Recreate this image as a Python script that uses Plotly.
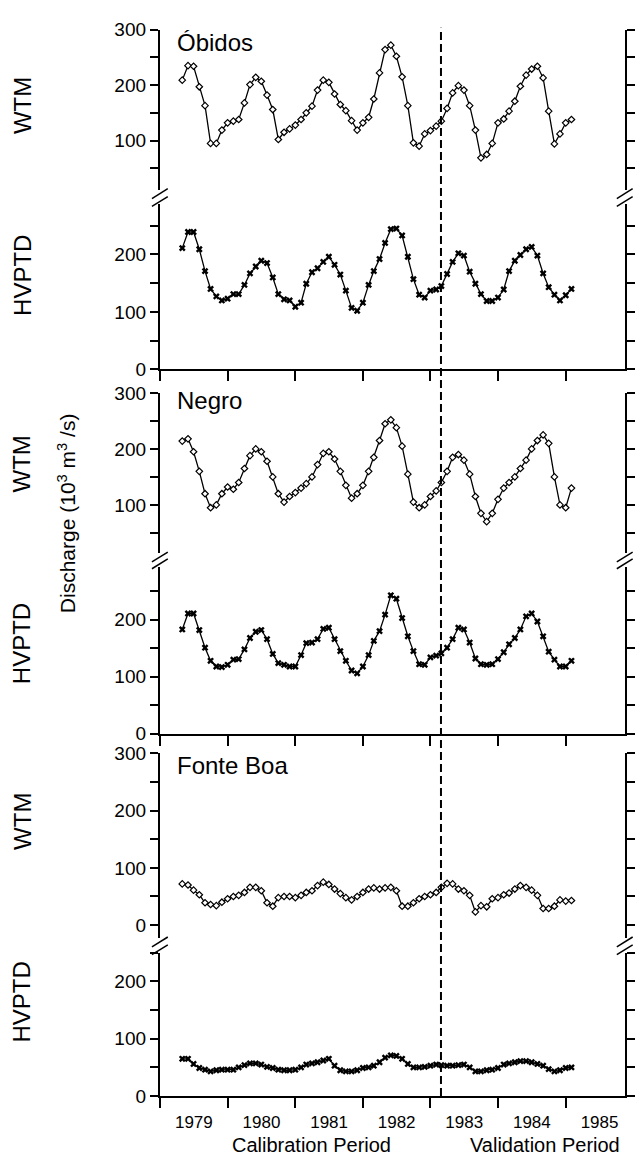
import pandas as pd
import plotly.graph_objects as go

W, H = 635, 1166

# monthly values, May 1979 - Feb 1985 (10^3 m3/s)
dates = pd.date_range("1979-05-01", periods=70, freq="MS")

obidos_wtm = [209, 235, 234, 197, 163, 95, 95, 119, 132, 135, 138, 168, 201, 214, 207, 182, 156, 102, 115, 121,
              128, 138, 150, 162, 191, 209, 205, 184, 165, 154, 136, 119, 132, 142, 175, 222, 264, 272, 252, 215,
              163, 96, 90, 112, 118, 126, 135, 158, 186, 199, 191, 163, 119, 69, 75, 95, 132, 139, 153, 171,
              198, 218, 229, 234, 213, 153, 94, 112, 132, 138]
obidos_hvptd = [211, 239, 239, 209, 171, 140, 127, 120, 123, 131, 131, 147, 167, 179, 189, 185, 160, 131, 122, 120,
                109, 116, 149, 169, 176, 187, 196, 182, 165, 137, 107, 102, 116, 147, 171, 192, 220, 244, 245, 233,
                196, 157, 130, 125, 137, 139, 145, 166, 187, 202, 198, 170, 149, 131, 119, 119, 125, 139, 171, 189,
                199, 209, 213, 198, 167, 143, 130, 120, 129, 140]
negro_wtm = [214, 218, 195, 160, 120, 95, 100, 120, 132, 128, 140, 165, 188, 200, 195, 178, 150, 120, 105, 115,
             122, 130, 138, 150, 172, 192, 195, 182, 160, 135, 112, 120, 135, 160, 185, 215, 245, 252, 238, 205,
             155, 105, 95, 100, 115, 125, 140, 160, 185, 190, 180, 155, 115, 85, 70, 85, 110, 130, 140, 150,
             165, 180, 200, 215, 225, 210, 150, 100, 95, 130]
negro_hvptd = [183, 211, 211, 182, 151, 128, 118, 117, 121, 130, 131, 148, 168, 179, 182, 166, 140, 124, 121, 118,
               118, 138, 159, 160, 166, 184, 186, 166, 145, 128, 111, 106, 118, 138, 163, 180, 209, 243, 237, 203,
               171, 145, 122, 121, 134, 137, 141, 151, 166, 186, 183, 160, 132, 122, 121, 122, 131, 143, 157, 168,
               183, 206, 211, 197, 171, 144, 130, 118, 118, 128]
fonteboa_wtm = [72, 70, 61, 53, 39, 36, 34, 40, 46, 50, 52, 57, 66, 66, 60, 39, 33, 48, 50, 50,
                48, 52, 57, 60, 69, 75, 71, 63, 55, 48, 44, 50, 57, 63, 65, 63, 65, 66, 60, 33,
                33, 39, 46, 50, 53, 57, 66, 73, 72, 63, 60, 52, 23, 34, 32, 46, 48, 53, 56, 63,
                69, 66, 61, 52, 29, 29, 33, 44, 42, 43]
fonteboa_hvptd = [65, 65, 56, 49, 46, 43, 45, 46, 46, 46, 50, 54, 57, 57, 55, 51, 49, 46, 45, 45,
                  46, 50, 55, 57, 59, 62, 65, 53, 45, 43, 43, 45, 49, 50, 53, 59, 67, 71, 70, 65,
                  56, 50, 50, 51, 53, 55, 54, 53, 53, 54, 55, 50, 43, 43, 45, 46, 49, 55, 57, 59,
                  61, 61, 59, 56, 53, 47, 43, 45, 49, 50]

stations = ["Óbidos", "Negro", "Fonte Boa"]
wtm = [obidos_wtm, negro_wtm, fonteboa_wtm]
hvptd = [obidos_hvptd, negro_hvptd, fonteboa_hvptd]
calib_end = "1983-02-27"

# pixel layout: (top, bottom) of each sub-panel and its value range
panels = [
    ((20, 183), (11.5, 300)), ((198, 366), (0, 287)),
    ((390, 553), (14, 300)), ((567, 737), (0, 293)),
    ((757, 945), (-22.5, 300)), ((960, 1106), (0, 250)),
]
label_y = [97, 270, 462, 645, 826, 1010]
name_y = [33, 398, 769]
x_left, x_right = 161.4, 630.7


def py(px):
    return 1 - px / H


fig = go.Figure()

for k in range(3):
    xa = "x" if k == 0 else "x%d" % (k + 1)
    fig.add_trace(go.Scatter(x=dates, y=wtm[k], xaxis=xa, yaxis="y" if k == 0 else "y%d" % (2 * k + 1),
                             mode="lines+markers", line=dict(color="black", width=1.3),
                             marker=dict(symbol="diamond", size=5, color="white",
                                         line=dict(color="black", width=1.2))))
    fig.add_trace(go.Scatter(x=dates, y=hvptd[k], xaxis=xa, yaxis="y%d" % (2 * k + 2),
                             mode="lines+markers", line=dict(color="black", width=1.3),
                             marker=dict(symbol="x", size=6, color="black")))

layout = {}
for k in range(3):
    key = "xaxis" if k == 0 else "xaxis%d" % (k + 1)
    layout[key] = dict(domain=[x_left / W, x_right / W], range=["1978-12-31", "1985-11-16"], type="date",
                       anchor="y%d" % (2 * k + 2), showline=True, linecolor="black", linewidth=2,
                       ticks="outside", ticklen=10, tickwidth=2, tickcolor="black",
                       tick0="1979-01-01", dtick="M12", tickformat="%Y", ticklabelmode="period",
                       showticklabels=(k == 2), tickfont=dict(size=17), showgrid=False, zeroline=False)

for i, ((top, bot), (v0, v1)) in enumerate(panels):
    key = "yaxis" if i == 0 else "yaxis%d" % (i + 1)
    layout[key] = dict(domain=[py(bot), py(top)], range=[v0, v1], anchor="x" if i < 2 else "x%d" % (i // 2 + 1),
                       showline=True, linecolor="black", linewidth=2, mirror="ticks",
                       ticks="outside", ticklen=8, tickwidth=2, tickcolor="black",
                       tickvals=[0, 100, 200, 300], tickfont=dict(size=19),
                       minor=dict(tickvals=[50, 150, 250], ticks="outside", ticklen=8, tickwidth=2,
                                  tickcolor="black"),
                       showgrid=False, zeroline=False)

fig.update_layout(width=W, height=H, margin=dict(l=0, r=0, t=0, b=0), showlegend=False,
                  plot_bgcolor="white", paper_bgcolor="white",
                  font=dict(family="Liberation Sans, Arial, sans-serif", color="black", size=19), **layout)

# axis breaks
breaks = [(183, 198), (553, 567), (945, 960)]
for top, bot in breaks:
    for xc in (x_left, x_right):
        for yc in (top + 4, bot - 3):
            fig.add_shape(type="line", xref="paper", yref="paper",
                          x0=(xc - 8) / W, x1=(xc + 8) / W, y0=py(yc + 5), y1=py(yc - 5),
                          line=dict(color="black", width=1.5))

# end of calibration period
fig.add_shape(type="line", xref="x3", yref="paper", x0=calib_end, x1=calib_end, y0=py(1106), y1=py(18),
              line=dict(color="black", width=2, dash="8px,4px"))

for k, name in enumerate(stations):
    fig.add_annotation(text=name, xref="paper", yref="paper", x=177 / W, y=py(name_y[k]),
                       xanchor="left", yanchor="middle", showarrow=False, font=dict(size=24))

for i, yc in enumerate(label_y):
    fig.add_annotation(text="WTM" if i % 2 == 0 else "HVPTD", xref="paper", yref="paper",
                       x=22 / W, y=py(yc), xanchor="center", yanchor="middle",
                       textangle=-90, showarrow=False, font=dict(size=24))

fig.add_annotation(text="Discharge (10<sup>3</sup>\u00a0m<sup>3</sup>\u00a0/s)", xref="paper", yref="paper",
                   x=67 / W, y=py(512), xanchor="center", yanchor="middle",
                   textangle=-90, showarrow=False, font=dict(size=21))

fig.add_annotation(text="Calibration Period", xref="x3", yref="paper", x="1981-03-30", y=py(1156),
                   xanchor="center", yanchor="middle", showarrow=False, font=dict(size=20))
fig.add_annotation(text="Validation Period", xref="x3", yref="paper", x="1984-09-10", y=py(1156),
                   xanchor="center", yanchor="middle", showarrow=False, font=dict(size=20))

fig.write_html("out.html", config={"displayModeBar": False},
               post_script="document.body.style.margin='0px';")
